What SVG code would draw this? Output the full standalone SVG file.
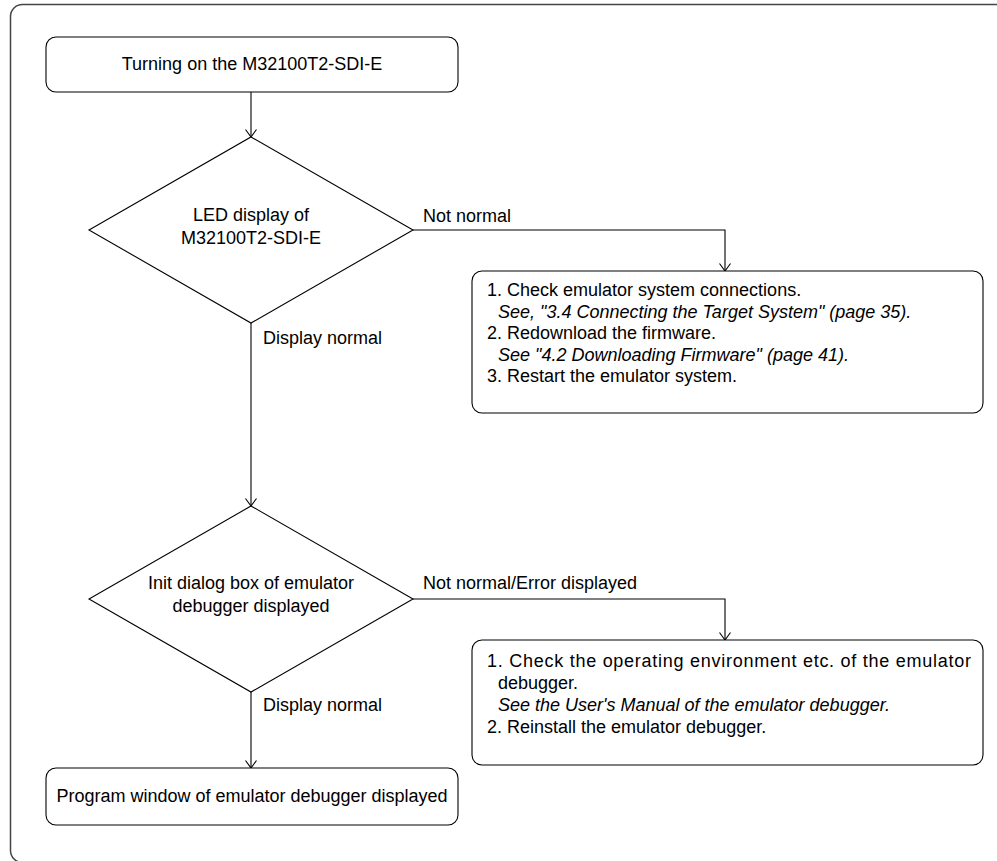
<svg xmlns="http://www.w3.org/2000/svg" width="997" height="861" viewBox="0 0 997 861">
<defs>
<style>
.box{fill:#fff;stroke:#000;stroke-width:1.1}
.frame{fill:none;stroke:#444;stroke-width:1.5}
.t{font-family:"Liberation Sans",Arial,sans-serif;font-size:18px;fill:#000}
.ti{font-style:italic}
.c{text-anchor:middle}
.ln{fill:none;stroke:#000;stroke-width:1.1}
</style>
<marker id="ah" viewBox="0 0 8 12" refX="8" refY="6" markerWidth="8" markerHeight="12" markerUnits="userSpaceOnUse" orient="auto">
<path d="M0.5,0.5 L8,6 L0.5,11.5" fill="none" stroke="#000" stroke-width="1.1"/>
</marker>
</defs>
<rect width="997" height="861" fill="#fff"/>
<rect class="frame" x="10.5" y="4.5" width="1000" height="858" rx="12"/>
<g id="connectors">
<path class="ln" d="M251,92 V137" marker-end="url(#ah)"/>
<path class="ln" d="M413,230 H725 V271" marker-end="url(#ah)"/>
<path class="ln" d="M251,323 V506" marker-end="url(#ah)"/>
<path class="ln" d="M413,599 H725 V640" marker-end="url(#ah)"/>
<path class="ln" d="M251,692 V768" marker-end="url(#ah)"/>
<text class="t" x="423" y="222">Not normal</text>
<text class="t" x="263" y="344">Display normal</text>
<text class="t" x="423" y="589">Not normal/Error displayed</text>
<text class="t" x="263" y="711">Display normal</text>
</g>
<g id="start">
<rect class="box" x="46" y="37" width="412" height="55" rx="10"/>
<text class="t c" x="252" y="70">Turning on the M32100T2-SDI-E</text>
</g>
<g id="led-check">
<polygon class="box" points="251,137 413,230 251,323 89,230"/>
<text class="t c" x="251" y="221">LED display of</text>
<text class="t c" x="251" y="244">M32100T2-SDI-E</text>
</g>
<g id="led-fix">
<rect class="box" x="472" y="271" width="511" height="142" rx="10"/>
<text class="t" x="487" y="296">1. Check emulator system connections.</text>
<text class="t ti" x="498" y="318">See, "3.4 Connecting the Target System" (page 35).</text>
<text class="t" x="487" y="339">2. Redownload the firmware.</text>
<text class="t ti" x="498" y="361">See "4.2 Downloading Firmware" (page 41).</text>
<text class="t" x="487" y="382">3. Restart the emulator system.</text>
</g>
<g id="init-check">
<polygon class="box" points="251,506 413,599 251,692 89,599"/>
<text class="t c" x="251" y="589">Init dialog box of emulator</text>
<text class="t c" x="251" y="612">debugger displayed</text>
</g>
<g id="init-fix">
<rect class="box" x="472" y="640" width="511" height="125" rx="10"/>
<text class="t" x="487" y="667" textLength="484" lengthAdjust="spacing">1. Check the operating environment etc. of the emulator</text>
<text class="t" x="498" y="689">debugger.</text>
<text class="t ti" x="498" y="711">See the User's Manual of the emulator debugger.</text>
<text class="t" x="487" y="733">2. Reinstall the emulator debugger.</text>
</g>
<g id="end">
<rect class="box" x="46" y="768" width="412" height="57" rx="10"/>
<text class="t c" x="252" y="802">Program window of emulator debugger displayed</text>
</g>
</svg>
